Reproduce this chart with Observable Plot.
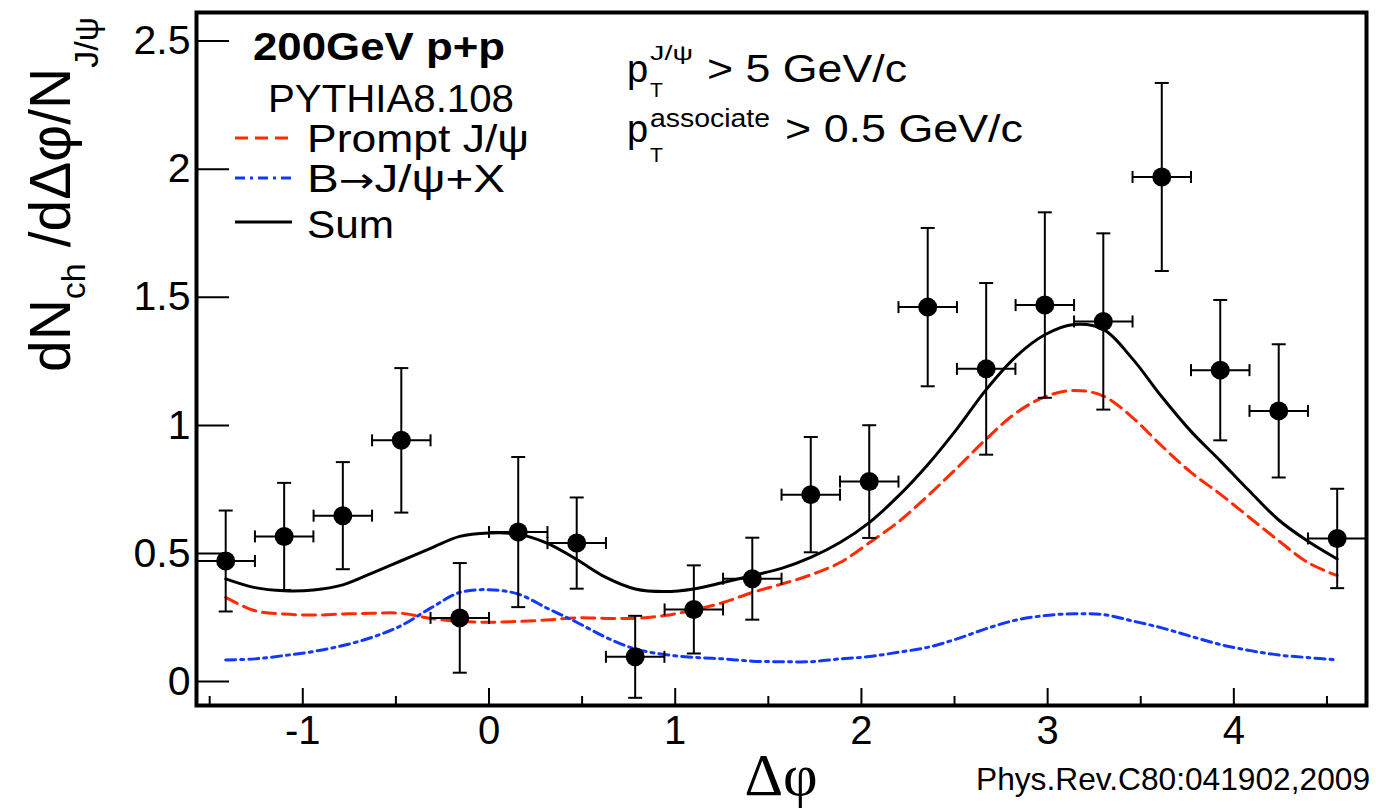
<!DOCTYPE html>
<html><head><meta charset="utf-8">
<script src="https://cdn.jsdelivr.net/npm/d3@7"></script>
<script src="https://cdn.jsdelivr.net/npm/@observablehq/plot@0.6"></script>
<style>
html,body{margin:0;padding:0;background:#fff;}
#chart{width:1376px;height:810px;overflow:hidden;}
</style></head><body><div id="chart"></div>
<script>
// ---- data points (bin centres, values, vertical errors) ----
const pointPhi = [-1.414,-1.100,-0.785,-0.471,-0.157,0.157,0.471,0.785,1.100,1.414,1.728,2.042,2.356,2.670,2.985,3.299,3.613,3.927,4.241,4.555];
const pointY   = [0.459,0.555,0.636,0.930,0.237,0.572,0.529,0.085,0.270,0.390,0.718,0.769,1.450,1.209,1.458,1.394,1.958,1.204,1.045,0.547];
const pointErr = [0.197,0.209,0.209,0.282,0.214,0.293,0.178,0.160,0.172,0.160,0.225,0.220,0.309,0.335,0.362,0.344,0.367,0.274,0.260,0.194];
const binHalfWidth = 0.157;

// ---- PYTHIA curves ----
const curvePhi = [-1.414,-1.257,-1.100,-0.942,-0.785,-0.628,-0.471,-0.314,-0.157,0,0.157,0.314,0.471,0.628,0.785,0.942,1.100,1.257,1.414,1.571,1.728,1.885,2.042,2.199,2.356,2.513,2.670,2.827,2.985,3.142,3.299,3.456,3.613,3.770,3.927,4.084,4.241,4.398,4.555];
const promptY = [0.317,0.265,0.252,0.248,0.252,0.255,0.255,0.235,0.223,0.220,0.223,0.229,0.237,0.235,0.235,0.246,0.268,0.297,0.336,0.369,0.405,0.453,0.530,0.612,0.713,0.822,0.935,1.035,1.100,1.125,1.103,1.019,0.908,0.805,0.720,0.629,0.538,0.453,0.402];
const bDecayY = [0.073,0.077,0.090,0.106,0.129,0.161,0.207,0.275,0.336,0.347,0.330,0.274,0.220,0.161,0.116,0.094,0.083,0.077,0.068,0.066,0.066,0.077,0.086,0.103,0.122,0.155,0.195,0.228,0.246,0.253,0.250,0.225,0.198,0.165,0.133,0.110,0.092,0.082,0.073];
const sumY    = [0.389,0.355,0.343,0.346,0.366,0.412,0.460,0.508,0.555,0.568,0.564,0.528,0.465,0.395,0.350,0.340,0.350,0.375,0.402,0.430,0.473,0.531,0.609,0.713,0.835,0.975,1.128,1.255,1.342,1.382,1.363,1.248,1.100,0.965,0.850,0.732,0.619,0.536,0.467];

// ---- axes ----
const xTicks = [-1,0,1,2,3,4];
const xMinorTicks = [-1.5,-0.5,0.5,1.5,2.5,3.5,4.5];
const yTicks = [0,0.5,1,1.5,2,2.5];
const xDomain = [-1.5708, 4.7124];
const yDomain = [-0.105, 2.6];

const colPrompt = "#ff2a00";
const colB = "#1238ff";

const points = pointPhi.map((p,i)=>({phi:p, y:pointY[i], err:pointErr[i]}));
const rows = ys => curvePhi.map((p,i)=>({phi:p, y:ys[i]}));

const hCap = {draw(ctx,size){const w=Math.sqrt(size/Math.PI);ctx.moveTo(-w,0);ctx.lineTo(w,0);}};
const vCap = {draw(ctx,size){const w=Math.sqrt(size/Math.PI);ctx.moveTo(0,-w);ctx.lineTo(0,w);}};

const FONT = "'Liberation Sans', Arial, Helvetica, sans-serif";

const plot = Plot.plot({
  width:1376, height:810,
  marginLeft:196, marginRight:10, marginTop:12, marginBottom:105,
  x:{domain:xDomain, label:null},
  y:{domain:yDomain, label:null},
  style:{fontFamily:FONT, background:"white", color:"black", overflow:"visible"},
  marks:[
    Plot.line(rows(promptY), {x:"phi", y:"y", stroke:colPrompt, strokeWidth:3, strokeDasharray:"13,7", curve:"catmull-rom"}),
    Plot.line(rows(bDecayY), {x:"phi", y:"y", stroke:colB, strokeWidth:3, strokeDasharray:"10,5,3,5", curve:"catmull-rom"}),
    Plot.line(rows(sumY), {x:"phi", y:"y", stroke:"black", strokeWidth:3, curve:"catmull-rom"}),
    Plot.ruleX(points, {x:"phi", y1:d=>d.y-d.err, y2:d=>d.y+d.err, stroke:"black", strokeWidth:2}),
    Plot.ruleY(points, {y:"y", x1:d=>d.phi-binHalfWidth, x2:d=>d.phi+binHalfWidth, stroke:"black", strokeWidth:2}),
    Plot.dot(points, {x:"phi", y:d=>d.y+d.err, symbol:hCap, r:7, stroke:"black", strokeWidth:2, fill:"none"}),
    Plot.dot(points, {x:"phi", y:d=>d.y-d.err, symbol:hCap, r:7, stroke:"black", strokeWidth:2, fill:"none"}),
    Plot.dot(points, {x:d=>d.phi-binHalfWidth, y:"y", symbol:vCap, r:6, stroke:"black", strokeWidth:2, fill:"none"}),
    Plot.dot(points, {x:d=>d.phi+binHalfWidth, y:"y", symbol:vCap, r:6, stroke:"black", strokeWidth:2, fill:"none"}),
    Plot.dot(points, {x:"phi", y:"y", r:9.5, fill:"black", stroke:"none"}),
    Plot.axisX(xMinorTicks, {anchor:"bottom", tickSize:-9, strokeWidth:2, tickFormat:()=>"", label:null}),
    Plot.axisX(xTicks, {anchor:"bottom", tickSize:-17, tickPadding:27, strokeWidth:2, fontSize:40, tickFormat:d=>String(d), label:null}),
    Plot.axisY(yTicks, {anchor:"left", tickSize:-33, tickPadding:39, strokeWidth:2, fontSize:41, dy:3, tickFormat:d=>String(d), label:null}),
    Plot.frame({stroke:"black", strokeWidth:4})
  ]
});
document.getElementById("chart").appendChild(plot);

// ---- annotations (titles, legend, labels) ----
const svg = d3.select(plot);
const g = svg.append("g").attr("font-family", FONT).attr("fill","black").attr("text-anchor","start");

function txt(x,y,size,str,opts={}){
  const t = g.append("text").attr("x",x).attr("y",y).attr("font-size",size).attr("text-anchor",opts.anchor||"start");
  if(str !== null) t.text(str);
  if(opts.weight) t.attr("font-weight",opts.weight);
  if(opts.len){ t.attr("textLength",opts.len).attr("lengthAdjust","spacingAndGlyphs"); }
  if(opts.family) t.attr("font-family",opts.family);
  return t;
}

// legend
txt(253,60,38,"200GeV p+p",{weight:"bold",len:252});
txt(268,112,38,"PYTHIA8.108",{len:246});
txt(307,152,38,"Prompt J/ψ",{len:222});
const bt = txt(307,192,38,null,{len:198});
bt.append("tspan").text("B");
bt.append("tspan").attr("font-family","'DejaVu Sans', sans-serif").attr("font-size",34).text("→");
bt.append("tspan").text("J/ψ+X");
txt(307,238,38,"Sum",{len:87});
g.append("line").attr("x1",235).attr("x2",288).attr("y1",138).attr("y2",138).attr("stroke",colPrompt).attr("stroke-width",3).attr("stroke-dasharray","13,7");
g.append("line").attr("x1",235).attr("x2",294).attr("y1",178).attr("y2",178).attr("stroke",colB).attr("stroke-width",3).attr("stroke-dasharray","10,5,3,5");
g.append("line").attr("x1",235).attr("x2",292).attr("y1",222).attr("y2",222).attr("stroke","black").attr("stroke-width",3);

// cuts
txt(627,82,38,"p");
txt(650,60,21,"J/ψ",{len:43});
txt(650,97,21,"T");
txt(707,82,38,"> 5 GeV/c",{len:200});
txt(627,142,38,"p");
txt(650,127,26,"associate",{len:120});
txt(650,162,21,"T");
txt(785,142,38,"> 0.5 GeV/c",{len:238});

// x-axis title
txt(781,795,60,"Δφ",{anchor:"middle",family:"'Liberation Serif','Times New Roman',serif"});
// citation
txt(1370,790,32,"Phys.Rev.C80:041902,2009",{anchor:"end",len:394});

// y-axis title (rotated)
const yt = g.append("text").attr("transform","translate(70,372) rotate(-90)").attr("font-size",57).attr("text-anchor","start");
yt.append("tspan").text("dN");
yt.append("tspan").attr("font-size",34).attr("dy",15).text("ch");
yt.append("tspan").attr("dy",-15).text(" /dΔφ/N");
yt.append("tspan").attr("font-size",34).attr("dy",28).text("J/ψ");
</script></body></html>
